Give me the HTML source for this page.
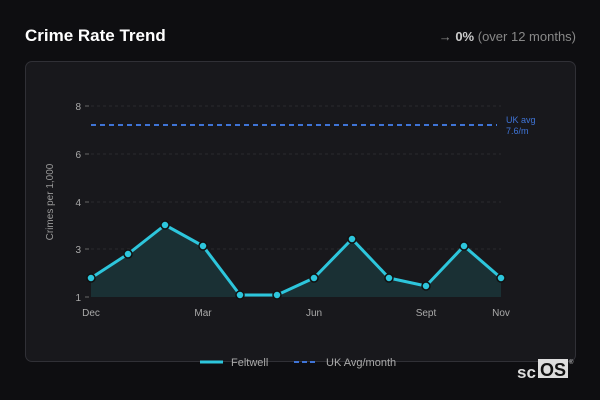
<!DOCTYPE html>
<html><head><meta charset="utf-8"><style>
body{margin:0;width:600px;height:400px;background:#0e0e11;font-family:"Liberation Sans","DejaVu Sans",sans-serif;position:relative;overflow:hidden}
.t{position:absolute;left:25px;top:26px;color:#fff;font-weight:bold;font-size:17px}
.r{position:absolute;right:24px;top:29px;color:#888;font-size:13px}
.r b{color:#ccc}
.card{position:absolute;left:25px;top:61px;width:549px;height:299px;background:#18181c;border:1px solid #303036;border-radius:7px}
</style></head><body>
<div class="t">Crime Rate Trend</div>
<div class="r">→ <b>0%</b> (over 12 months)</div>
<div class="card"></div>
<svg width="600" height="400" style="position:absolute;left:0;top:0" font-family="Liberation Sans, DejaVu Sans, sans-serif">
<g stroke="#2a2a2e" stroke-dasharray="3,3" stroke-width="1">
<line x1="91" x2="501" y1="106" y2="106"/><line x1="91" x2="501" y1="154" y2="154"/><line x1="91" x2="501" y1="202" y2="202"/><line x1="91" x2="501" y1="249" y2="249"/>
</g>
<g stroke="#666"><line x1="85" x2="89" y1="106" y2="106"/><line x1="85" x2="89" y1="154" y2="154"/><line x1="85" x2="89" y1="202" y2="202"/><line x1="85" x2="89" y1="249" y2="249"/><line x1="85" x2="89" y1="297" y2="297"/></g>
<g fill="#aaa" font-size="10" text-anchor="end"><text x="81" y="110">8</text><text x="81" y="158">6</text><text x="81" y="206">4</text><text x="81" y="253">3</text><text x="81" y="301">1</text></g>
<text transform="translate(53,202) rotate(-90)" fill="#999" font-size="10" text-anchor="middle">Crimes per 1,000</text>
<g fill="#aaa" font-size="10" text-anchor="middle"><text x="91" y="316">Dec</text><text x="203" y="316">Mar</text><text x="314" y="316">Jun</text><text x="426" y="316">Sept</text><text x="501" y="316">Nov</text></g>
<line x1="91" x2="497" y1="125" y2="125" stroke="#3f74d6" stroke-width="2" stroke-dasharray="5,4"/>
<text x="506" y="123" fill="#3f74d6" font-size="9">UK avg</text><text x="506" y="134" fill="#3f74d6" font-size="9">7.6/m</text>
<polygon fill="#1a3034" points="91,297 91,278 128,254 165,225 203,246 240,295 277,295 314,278 352,239 389,278 426,286 464,246 501,278 501,297"/>
<polyline fill="none" stroke="#2dc6dc" stroke-width="3" stroke-linejoin="round" points="91,278 128,254 165,225 203,246 240,295 277,295 314,278 352,239 389,278 426,286 464,246 501,278"/>
<g fill="#2dc6dc" stroke="#111" stroke-width="1.5">
<circle cx="91" cy="278" r="4"/><circle cx="128" cy="254" r="4"/><circle cx="165" cy="225" r="4"/><circle cx="203" cy="246" r="4"/><circle cx="240" cy="295" r="4"/><circle cx="277" cy="295" r="4"/><circle cx="314" cy="278" r="4"/><circle cx="352" cy="239" r="4"/><circle cx="389" cy="278" r="4"/><circle cx="426" cy="286" r="4"/><circle cx="464" cy="246" r="4"/><circle cx="501" cy="278" r="4"/>
</g>
<line x1="200" x2="223" y1="362" y2="362" stroke="#2dc6dc" stroke-width="3"/>
<text x="231" y="366" fill="#aaa" font-size="11">Feltwell</text>
<line x1="294" x2="318" y1="362" y2="362" stroke="#3f74d6" stroke-width="2" stroke-dasharray="5,3"/>
<text x="326" y="366" fill="#aaa" font-size="11">UK Avg/month</text>
<text x="517" y="378" fill="#ddd" font-size="17" font-weight="bold">sc</text>
<rect x="538" y="359" width="30" height="19" fill="#ddd"/>
<text x="540" y="376" fill="#111" font-size="18" font-weight="bold">OS</text>
<text x="569" y="364" fill="#ccc" font-size="6">®</text>
</svg>
</body></html>
